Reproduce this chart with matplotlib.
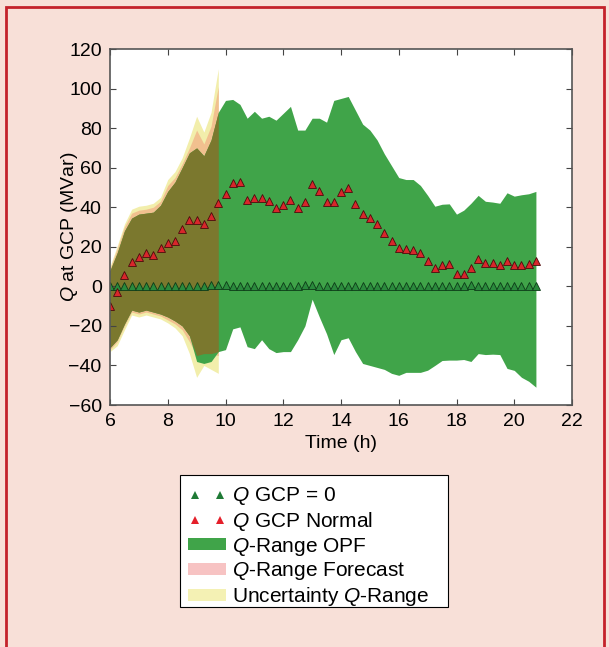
import numpy as np
import matplotlib
matplotlib.use('Agg')
import matplotlib.pyplot as plt
from matplotlib.patches import Rectangle, Patch
from matplotlib.lines import Line2D

plt.rcParams['font.family'] = ['Liberation Sans', 'DejaVu Sans']
plt.rcParams['mathtext.fontset'] = 'custom'
plt.rcParams['mathtext.rm'] = 'Liberation Sans'
plt.rcParams['mathtext.it'] = 'Liberation Sans:italic'

# quarter-hour samples, 6:00 .. 20:45
hours = np.arange(24, 84) / 4.0
n_fc = 16  # forecast horizon covers 6:00 .. 9:45

q_normal = [-10, -3, 5.5, 12.3, 15, 17, 16, 19.5, 22, 22.7, 28.8, 33.7, 33.3, 31.3, 35.5, 42,
            46.5, 52, 53, 43.8, 44.6, 44.6, 43, 39.5, 41, 43.4, 39.4, 42.4, 51.5, 48.3, 42.6, 42.6,
            47.8, 49.8, 41.4, 36.4, 34.5, 31.7, 26.8, 22.9, 19.4, 19, 18.2, 16.8, 12.6, 9.3, 10.8, 11.1,
            6, 6, 9.3, 14, 11.8, 12, 11, 13, 10.6, 10.6, 11.5, 12.8]

q_zero = [0, 0, 0, 0, 0, 0, 0, 0, 0, 0, 0, 0, 0, 0, 0.8, 0.8,
          0.8, 0, 0, 0, 0, 0, 0, 0, 0, 0, 0, 0.6, 0.6, 0, 0, 0,
          0, 0, 0, 0, 0, 0, 0, 0, 0, 0, 0, 0, 0, 0, 0, 0,
          0, 0, 0.8, 0, 0, 0, 0, 0, 0, 0, 0, 0]

opf_hi = [8, 17, 28, 34.5, 36.5, 37, 37.5, 41, 48, 52.7, 60, 67.5, 70, 66, 74, 88,
          94, 94.5, 92, 85, 88.5, 85, 86, 84, 87.5, 91, 79, 79, 85, 85, 83, 94,
          95, 96, 89, 82, 79, 74, 67, 61, 55, 54, 54, 51, 46, 40.5, 41.5, 41.7,
          36.5, 38.5, 42, 46, 43, 42.6, 42, 47.3, 45.6, 46.3, 46.8, 48]
opf_lo = [-31, -27, -19, -12, -13, -12, -13, -14, -15.5, -17.5, -20, -25, -38, -39, -38, -33,
          -32, -21.5, -20.5, -30.5, -31.5, -27, -31.5, -33.5, -33, -33, -27, -20, -6.5, -15.5, -24, -34.5,
          -27, -26, -33, -39, -40, -41, -42, -44, -45, -43.5, -43.5, -43.5, -42.4, -40, -37.5, -37.3,
          -37.3, -37, -38, -34, -34.5, -34.3, -34.5, -41.5, -42.5, -46, -48, -51]

fc_hi = [9, 19, 30, 37, 38.5, 39, 40, 43, 51, 55, 62, 70, 79, 72, 81, 101]
fc_lo = [-32, -28, -20, -13, -14, -13, -14, -15, -17, -19, -22, -28, -35, -34, -34, -35]

unc_hi = [10, 20.5, 31.5, 39, 40.5, 41, 42, 45, 54, 58, 65, 75, 86, 78, 88, 110]
unc_lo = [-33, -30, -22, -14.5, -15.5, -14.5, -15.5, -16.5, -18.5, -21, -25, -34, -46, -40, -42, -44]

c_green = '#40a449'
c_olive = '#7b782e'
c_orange = '#f1c08f'
c_yellow = '#f2eeab'
c_pink = '#f7c3c3'
c_pale = '#f4f1b4'

fig = plt.figure(figsize=(6.09, 6.47), dpi=100)
fig.patch.set_facecolor('#f8e0d8')
fig.patches.append(Rectangle((6 / 609, -0.05), 598 / 609, 1.05 - 7 / 647,
                             transform=fig.transFigure, fill=False,
                             edgecolor='#c4222b', linewidth=2))

ax = fig.add_axes([110 / 609, 1 - 405 / 647, 462 / 609, 356 / 647])

t_fc = hours[:n_fc]
ax.fill_between(t_fc, unc_lo, unc_hi, color=c_yellow, lw=0)
ax.fill_between(t_fc, fc_lo, fc_hi, color=c_orange, lw=0)
ax.fill_between(hours, opf_lo, opf_hi, color=c_green, lw=0)
# overlap of OPF range and forecast range
ov_lo = np.maximum(opf_lo[:n_fc], fc_lo)
ov_hi = np.minimum(opf_hi[:n_fc], fc_hi)
ax.fill_between(t_fc, ov_lo, ov_hi, color=c_olive, lw=0)

ax.plot(hours, q_zero, ls='none', marker='^', ms=5.5, mfc='#2a8a3c', mec='#0d3a18', mew=0.6)
ax.plot(hours, q_normal, ls='none', marker='^', ms=5.5, mfc='#d8262b', mec='#4a0c0c', mew=0.6)

ax.set_xlim(6, 22)
ax.set_ylim(-60, 120)
ax.set_xticks(range(6, 23, 2))
ax.set_yticks(range(-60, 121, 20))
ax.tick_params(direction='in', top=True, right=True, length=4, width=0.8,
               labelsize=14, color='#444444', pad=6)
for s in ax.spines.values():
    s.set_color('#555555')
    s.set_linewidth(1.2)

ax.set_xlabel('Time (h)', fontsize=14, labelpad=3)
ax.set_ylabel(r'$\mathit{Q}$ at GCP (MVar)', fontsize=14)
ax.yaxis.set_label_coords(-0.064, 0.5)

handles = [
    Line2D([], [], ls='none', marker='^', ms=6, color='#1f7a35', mew=0),
    Line2D([], [], ls='none', marker='^', ms=6, color='#e41f2a', mew=0),
    Patch(facecolor=c_green, edgecolor='none'),
    Patch(facecolor=c_pink, edgecolor='none'),
    Patch(facecolor=c_pale, edgecolor='none'),
]
labels = [r'$\mathit{Q}$ GCP = 0', r'$\mathit{Q}$ GCP Normal', r'$\mathit{Q}$-Range OPF',
          r'$\mathit{Q}$-Range Forecast', r'Uncertainty $\mathit{Q}$-Range']
leg = fig.legend(handles, labels, loc='upper left', bbox_to_anchor=(180 / 609, 1 - 477 / 647),
                 borderaxespad=0, fontsize=15, numpoints=2, handlelength=1.8, handleheight=0.5,
                 handletextpad=0.3, labelspacing=0.13, borderpad=0.4, frameon=False)

# legend box drawn separately so it hugs the entries
fig.patches.append(Rectangle((180 / 609, 1 - 607 / 647), 268 / 609, 132 / 647,
                             transform=fig.transFigure, facecolor='white',
                             edgecolor='black', linewidth=0.8, zorder=0.5))

fig.savefig('out.png', dpi=100, facecolor=fig.get_facecolor())
